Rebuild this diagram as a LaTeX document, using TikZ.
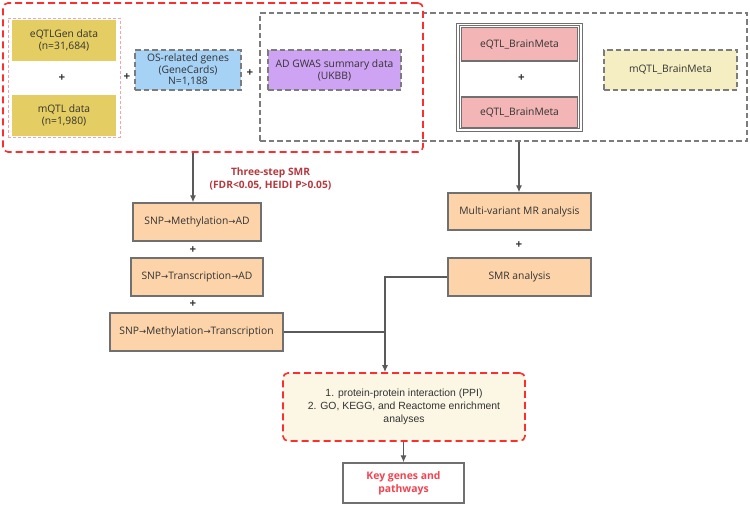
\documentclass[tikz,border=0pt]{standalone}
\usepackage{fontspec}
\setmainfont{Open Sans}
\newfontfamily\arialf{Liberation Sans}
\newfontfamily\arrowf{DejaVu Sans}
\usetikzlibrary{arrows.meta}
\definecolor{yel}{HTML}{E4CD62}
\definecolor{blu}{HTML}{A6D2F6}
\definecolor{purp}{HTML}{CFA3F3}
\definecolor{pinkf}{HTML}{F3B5B5}
\definecolor{lyel}{HTML}{F6EEC3}
\definecolor{peach}{HTML}{FDD4AA}
\definecolor{cream}{HTML}{FBF7E4}
\definecolor{bord}{HTML}{707070}
\definecolor{grayd}{HTML}{7C7C7C}
\definecolor{redd}{HTML}{FF2E2E}
\definecolor{dred}{HTML}{B5393E}
\definecolor{keyred}{HTML}{F24450}
\definecolor{txt}{HTML}{333333}
\definecolor{pinkd}{HTML}{F4A5A5}
\newcommand{\myra}{{\arrowf\fontsize{8.5}{8.5}\selectfont\char"2192}}
\tikzset{
  basebox/.style={align=center, text=txt, inner sep=1pt, font=\fontsize{10.3}{12}\selectfont},
  solidbox/.style={basebox, draw=bord, line width=1.3pt},
  dashbox/.style={basebox, draw=grayd, line width=1.7pt, dash pattern=on 5.5pt off 3pt},
  plusnode/.style={text=txt, inner sep=0pt, font=\bfseries\fontsize{11.5}{11.5}\selectfont},
  reddash/.style={draw=redd, line width=1.6pt, dash pattern=on 7pt off 4pt, rounded corners=5pt},
  conn/.style={draw=bord!80!black, line width=1.2pt},
  arr/.style={conn, -{Latex[length=7pt,width=6pt]}},
}
\begin{document}
\begin{tikzpicture}[x=1pt,y=-1pt]
\useasboundingbox[fill=white] (0,0) rectangle (750,506);

% top-left group
\node[draw=pinkd, line width=0.9pt, dash pattern=on 3pt off 2pt, minimum width=112, minimum height=119, inner sep=0pt] (pinkframe) at (64,77.5) {};
\node[basebox, fill=yel, minimum width=104, minimum height=41] (eqtlgen) at (64,40.5) {eQTLGen data\\(n=31,684)};
\node[basebox, fill=yel, minimum width=104, minimum height=41] (mqtl) at (64,115.5) {mQTL data\\(n=1,980)};
\node[plusnode] (p1) at (62,78) {+};
\node[plusnode] (p2) at (127,77) {+};
\node[dashbox, fill=blu, minimum width=106, minimum height=40, font=\fontsize{10.3}{11.5}\selectfont] (os) at (188,70) {OS-related genes\\(GeneCards)\\N=1,188};
\node[plusnode] (p3) at (250,73) {+};

% right grey frame
\node[draw=grayd, line width=1.4pt, dash pattern=on 5.5pt off 3pt, minimum width=487, minimum height=128, inner sep=0pt] (grayframe) at (503.5,77) {};
\node[dashbox, fill=purp, minimum width=133, minimum height=40] (gwas) at (334.5,70) {AD GWAS summary data\\(UKBB)};
\node[draw=bord, double=white, double distance=1.8pt, line width=0.9pt, minimum width=123, minimum height=105.4, inner sep=0pt] (dframe) at (519.3,77.2) {};
\node[solidbox, fill=pinkf, minimum width=116, minimum height=33.5] (bm1) at (519.5,44.3) {eQTL\_BrainMeta};
\node[plusnode] (p4) at (521.5,78.3) {+};
\node[solidbox, fill=pinkf, minimum width=116, minimum height=30.5] (bm2) at (519.5,112.3) {eQTL\_BrainMeta};
\node[dashbox, fill=lyel, minimum width=133, minimum height=40] (mbm) at (670.5,70) {mQTL\_BrainMeta};

% red outer frame
\node[reddash, minimum width=420, minimum height=149, inner sep=0pt] (redbox) at (213,77.5) {};

% label
\node[text=dred, align=center, font=\bfseries\fontsize{10.2}{12.5}\selectfont] (smrlab) at (270.5,179) {Three-step SMR\\(FDR<0.05, HEIDI P>0.05)};

% left column
\node[solidbox, fill=peach, minimum width=128, minimum height=38] (snp1) at (197,222) {SNP\myra Methylation\myra AD};
\node[plusnode] (p5) at (193,250) {+};
\node[solidbox, fill=peach, minimum width=132, minimum height=38] (snp2) at (197,277) {SNP\myra Transcription\myra AD};
\node[plusnode] (p6) at (193,304) {+};
\node[solidbox, fill=peach, minimum width=173, minimum height=38] (snp3) at (196.5,332) {SNP\myra Methylation\myra Transcription};

% right column
\node[solidbox, fill=peach, minimum width=143, minimum height=37] (mv) at (519.5,211.5) {Multi-variant MR analysis};
\node[plusnode] (p7) at (519,245) {+};
\node[solidbox, fill=peach, minimum width=143, minimum height=38] (smr) at (519.5,277) {SMR analysis};

% enrichment
\node[reddash, fill=cream, align=center, text=txt, font=\arialf\fontsize{10.4}{13}\selectfont, minimum width=242, minimum height=68, inner sep=0pt] (enrich) at (404,407) {1. protein-protein interaction (PPI)\\2. GO, KEGG, and Reactome enrichment\\analyses};

% key
\node[draw=bord, line width=1.3pt, fill=white, align=center, text=keyred, font=\bfseries\fontsize{10.4}{13}\selectfont, minimum width=121, minimum height=40, inner sep=0pt] (key) at (403.5,483) {Key genes and\\pathways};

% connectors
\coordinate (cx1) at (193,0);
\coordinate (cx2) at (519,0);
\coordinate (cx3) at (385,0);
\draw[arr] (redbox.south -| cx1) -- (snp1.north -| cx1);
\draw[arr] (grayframe.south -| cx2) -- (mv.north -| cx2);
\draw[arr] (smr.west) -| (cx3 |- enrich.north);
\draw[conn] (snp3.east) -- (snp3.east -| cx3);
\draw[arr] (enrich.south -| key.north) -- (key.north);
\end{tikzpicture}
\end{document}
